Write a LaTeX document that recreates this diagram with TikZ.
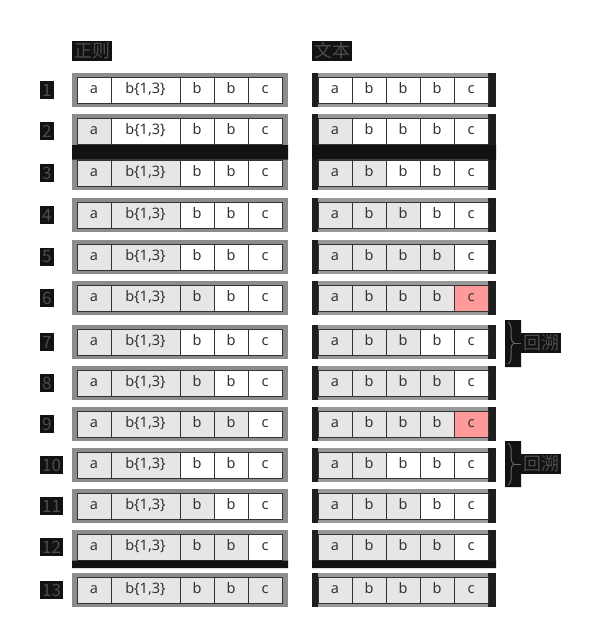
\documentclass[tikz,border=0pt]{standalone}
\usepackage{fontspec}
\setmainfont{Noto Sans}
\newfontfamily\cjk{Noto Sans CJK SC}
\usetikzlibrary{decorations.pathreplacing}
\definecolor{matchgray}{HTML}{E6E6E6}
\definecolor{failred}{HTML}{FF9A9A}
\definecolor{cellline}{HTML}{333333}
\definecolor{shadegray}{HTML}{8C8C8C}
\definecolor{shadedark}{HTML}{1E1E1E}
\tikzset{
  cellbox/.style={draw=cellline,line width=1pt,minimum height=26pt,inner sep=0pt,
    text height=10.8pt,text depth=3pt,font=\fontsize{14.5}{16}\selectfont,text=black!80},
  tag/.style={fill=black!93,text=black!70,inner sep=2pt,font=\cjk\fontsize{18}{20}\selectfont},
  backbrace/.style={decorate,decoration={brace,amplitude=6pt},draw=black!60,line width=1pt}
}
\begin{document}
\begin{tikzpicture}[x=1pt,y=-1pt]
\useasboundingbox (0,0) rectangle (600,629);
\node[tag,anchor=west] (head-re) at (72,51) {正则};
\node[tag,anchor=west] (head-tx) at (312,51) {文本};
% row / y / matched in regex / matched in text / c fails
\foreach \n/\y/\nre/\ntx/\bad in {1/90/0/0/0,2/131/1/1/0,3/173/2/2/0,4/215/2/3/0,
  5/257/2/4/0,6/298/3/4/1,7/342/2/3/0,8/383/3/4/0,9/424/4/4/1,10/465/2/2/0,
  11/506/3/3/0,12/547/4/4/0,13/590/5/5/0}{
  \fill[shadegray](72,\y-17)rectangle(288,\y+17);
  \fill[shadedark](312,\y-17)rectangle(496,\y+17);
  \fill[black!40](318,\y-17)rectangle(488,\y+17);
  \node[tag,anchor=west,font=\cjk\fontsize{17}{19}\selectfont,inner ysep=3pt] (num-\n) at (40,\y) {\n};
  \foreach \i/\cx/\w/\lbl in {1/94/34/a,2/145.5/69/{b\{1,3\}},3/197/34/b,4/231/34/b,5/265/34/c}{
    \ifnum\i>\nre \def\cellcol{white}\else\def\cellcol{matchgray}\fi
    \node[cellbox,fill=\cellcol,minimum width=\w pt] (re-\n-\i) at (\cx,\y) {\lbl};
  }
  \foreach \i/\cx/\lbl in {1/335/a,2/369/b,3/403/b,4/437/b,5/471/c}{
    \ifnum\i>\ntx \def\cellcol{white}\else\def\cellcol{matchgray}\fi
    \ifnum\bad=1 \ifnum\i=5 \def\cellcol{failred}\fi\fi
    \node[cellbox,fill=\cellcol,minimum width=34pt] (tx-\n-\i) at (\cx,\y) {\lbl};
  }
}
\fill[black!93](72,145)rectangle(288,159.5)(312,145)rectangle(496,159.5);
\fill[black!93](72,560.5)rectangle(288,568)(312,560.5)rectangle(496,568);
% backtracking marks
\fill[black!93](505,320)rectangle(521,367)(505,441)rectangle(521,487);
\coordinate (bk1-top) at (508,322);
\coordinate (bk1-bot) at (508,364);
\coordinate (bk2-top) at (508,443);
\coordinate (bk2-bot) at (508,485);
\draw[backbrace](bk1-top)--(bk1-bot);
\draw[backbrace](bk2-top)--(bk2-bot);
\node[tag,anchor=west] (back1) at (521,343) {回溯};
\node[tag,anchor=west] (back2) at (521,464) {回溯};
\draw[black!60,line width=1pt](514,343)--(back1.west);
\draw[black!60,line width=1pt](514,464)--(back2.west);
\end{tikzpicture}
\end{document}
